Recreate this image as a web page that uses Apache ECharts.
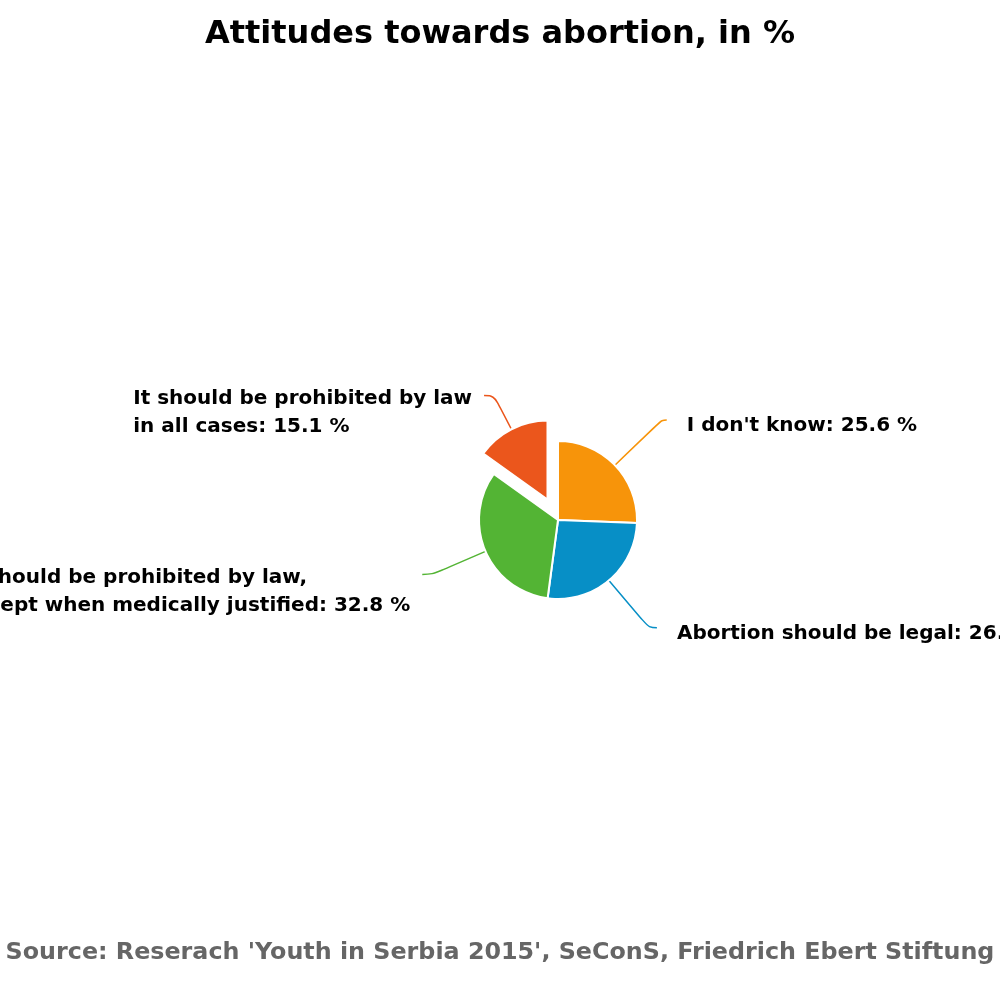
<!DOCTYPE html>
<html>
<head>
<meta charset="utf-8">
<script src="https://cdn.jsdelivr.net/npm/echarts@6/dist/echarts.min.js"></script>
<style>
  html, body { margin: 0; padding: 0; background: #fff; }
  #chart { width: 1000px; height: 1000px; }
</style>
</head>
<body>
<div id="chart"></div>
<script>
// data
const categories = [
  "I don't know",
  "Abortion should be legal",
  "It should be prohibited by law,\nexcept when medically justified",
  "It should be prohibited by law\nin all cases"
];
const values = [25.6, 26.5, 32.8, 15.1];
const colors = ["#F7940A", "#078FC6", "#53B434", "#EB561C"];
const exploded = [false, false, false, true];

const font = "DejaVu Sans";
const textStyle = {
  fontFamily: font,
  fontSize: 20,
  fontWeight: "bold",
  color: "#000",
  lineHeight: 28,
  align: "left"
};

let chart = echarts.init(document.getElementById("chart"));

// per-slice label line lengths (leader lines differ a bit in the original)
const lineLen = [[65, 5], [62, 8], [58, 10], [38, 10]];

let data = categories.map((name, i) => ({
  name: name,
  value: values[i],
  selected: exploded[i],
  itemStyle: { color: colors[i] },
  label: { distanceToLabelLine: i < 2 ? 20 : 12 },
  labelLine: { length: lineLen[i][0], length2: lineLen[i][1] }
}));

let option = {
  animation: false,
  title: [
    {
      text: "Attitudes towards abortion, in %",
      left: "center",
      top: 14,
      textStyle: { fontFamily: font, fontSize: 32, fontWeight: "bold", color: "#000" }
    },
    {
      text: "Source: Reserach 'Youth in Serbia 2015', SeConS, Friedrich Ebert Stiftung",
      left: "center",
      top: 936,
      textStyle: { fontFamily: font, fontSize: 23.8, fontWeight: "bold", color: "#666" }
    }
  ],
  series: [
    {
      type: "pie",
      // wide box so long labels run off the page like the original instead of being squeezed
      left: -300,
      right: -300,
      center: [858, 520],
      radius: 79,
      startAngle: 90,
      clockwise: true,
      selectedMode: "multiple",
      selectedOffset: 23,
      emphasis: { disabled: true },
      itemStyle: { borderColor: "#fff", borderWidth: 2 },
      label: {
        formatter: (p) => {
          let txt = p.name + ": " + p.value.toFixed(1) + " %";
          return txt.split("\n").map((l) => "{a|" + l + "}").join("\n");
        },
        fontFamily: font,
        fontSize: 20,
        fontWeight: "bold",
        color: "#000",
        lineHeight: 28,
        overflow: "none",
        rich: { a: textStyle }
      },
      labelLine: {
        show: true,
        smooth: 0.4,
        lineStyle: { width: 1.5 }
      },
      // the leader line meets the first text line, slightly above its middle
      labelLayout: (params) => {
        let lines = categories[params.dataIndex].split("\n").length;
        return { dy: (lines - 1) * 11 + 6 };
      },
      data: data
    }
  ]
};

chart.setOption(option);
window.addEventListener("resize", () => chart.resize());
</script>
</body>
</html>
